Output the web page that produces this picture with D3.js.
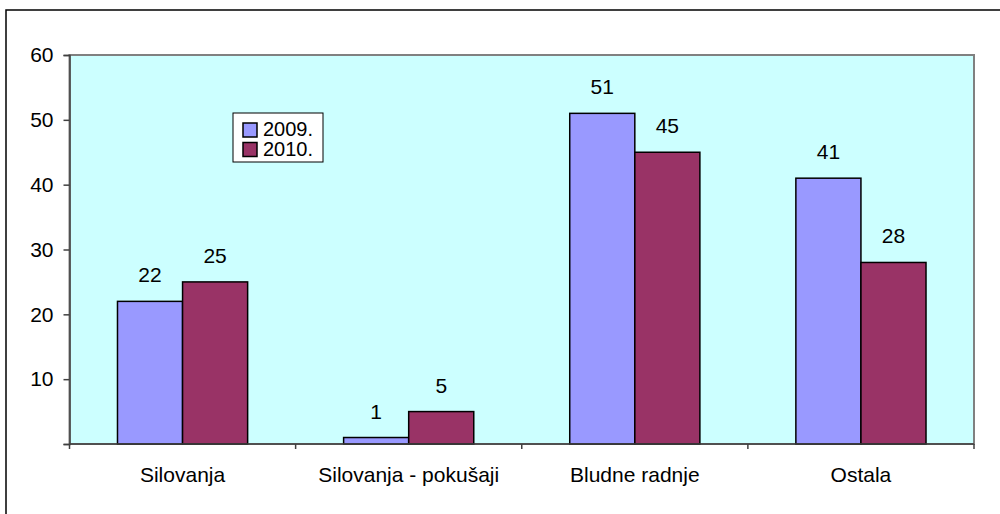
<!DOCTYPE html>
<html>
<head>
<meta charset="utf-8">
<script src="https://cdn.jsdelivr.net/npm/d3@7"></script>
<style>
body { margin: 0; background: #ffffff; }
text { font-family: "Liberation Sans", Arial, sans-serif; fill: #000000; }
</style>
</head>
<body>
<div id="chart"></div>
<script>
let categories = ["Silovanja", "Silovanja - pokušaji", "Bludne radnje", "Ostala"];
let seriesNames = ["2009.", "2010."];
let values2009 = [22, 1, 51, 41];
let values2010 = [25, 5, 45, 28];
let yTicks = [10, 20, 30, 40, 50, 60];
let colors = ["#9999FF", "#993366"];

let width = 1000;
let height = 514;
let plot = { left: 69.5, top: 55, right: 974, bottom: 444 };
let fontSize = "21px";

let svg = d3.select("#chart")
    .append("svg")
    .attr("width", width)
    .attr("height", height);

// outer frame
svg.append("rect")
    .attr("x", 6).attr("y", 10)
    .attr("width", 1000).attr("height", 520)
    .attr("fill", "#ffffff")
    .attr("stroke", "#000000")
    .attr("stroke-width", 1.5);

let x = d3.scaleBand()
    .domain(categories)
    .range([plot.left, plot.right]);

let xInner = d3.scaleBand()
    .domain(seriesNames)
    .range([0, x.bandwidth()])
    .paddingOuter(0.7375);

let y = d3.scaleLinear()
    .domain([0, 60])
    .range([plot.bottom, plot.top]);

// plot background
svg.append("rect")
    .attr("x", plot.left).attr("y", plot.top)
    .attr("width", plot.right - plot.left)
    .attr("height", plot.bottom - plot.top)
    .attr("fill", "#CCFFFF")
    .attr("stroke", "#808080")
    .attr("stroke-width", 2);

// bars
let data = [];
categories.forEach(function(c, i) {
    data.push({ cat: c, series: seriesNames[0], value: values2009[i], color: colors[0] });
    data.push({ cat: c, series: seriesNames[1], value: values2010[i], color: colors[1] });
});

svg.selectAll(".bar")
    .data(data)
    .enter()
    .append("rect")
    .attr("class", "bar")
    .attr("x", d => x(d.cat) + xInner(d.series))
    .attr("y", d => y(d.value))
    .attr("width", xInner.bandwidth())
    .attr("height", d => y(0) - y(d.value))
    .attr("fill", d => d.color)
    .attr("stroke", "#000000")
    .attr("stroke-width", 1.5);

svg.selectAll(".val")
    .data(data)
    .enter()
    .append("text")
    .attr("class", "val")
    .attr("x", d => x(d.cat) + xInner(d.series) + xInner.bandwidth() / 2)
    .attr("y", d => y(d.value) - 19)
    .attr("text-anchor", "middle")
    .attr("font-size", fontSize)
    .text(d => d.value);

// y axis
let yAxis = d3.axisLeft(y)
    .tickValues([0].concat(yTicks))
    .tickSize(6)
    .tickPadding(10)
    .tickFormat(d => d === 0 ? "" : d);

let yg = svg.append("g")
    .attr("transform", "translate(" + plot.left + ",0)")
    .call(yAxis);
yg.selectAll("path, line").attr("stroke", "#404040").attr("stroke-width", 1.5);
yg.selectAll("text")
    .attr("font-size", fontSize)
    .attr("font-family", "Liberation Sans, Arial, sans-serif")
    .attr("fill", "#000000");

// x axis
let xg = svg.append("g")
    .attr("transform", "translate(0," + plot.bottom + ")");
xg.append("line")
    .attr("x1", plot.left).attr("x2", plot.right)
    .attr("stroke", "#404040").attr("stroke-width", 1.5);
let xTickPos = categories.map(c => x(c)).concat([plot.right]);
xg.selectAll(".xtick")
    .data(xTickPos)
    .enter()
    .append("line")
    .attr("x1", d => d).attr("x2", d => d)
    .attr("y1", 0).attr("y2", 5)
    .attr("stroke", "#404040").attr("stroke-width", 1.5);
xg.selectAll(".xlabel")
    .data(categories)
    .enter()
    .append("text")
    .attr("x", d => x(d) + x.bandwidth() / 2)
    .attr("y", 38)
    .attr("text-anchor", "middle")
    .attr("font-size", fontSize)
    .text(d => d);

// legend
let legend = svg.append("g").attr("transform", "translate(233,113)");
legend.append("rect")
    .attr("width", 90).attr("height", 49)
    .attr("fill", "#ffffff")
    .attr("stroke", "#000000")
    .attr("stroke-width", 1);
seriesNames.forEach(function(s, i) {
    legend.append("rect")
        .attr("x", 10).attr("y", 10 + i * 19.5)
        .attr("width", 14).attr("height", 14)
        .attr("fill", colors[i])
        .attr("stroke", "#000000")
        .attr("stroke-width", 1.5);
    legend.append("text")
        .attr("x", 30).attr("y", 23 + i * 19.5)
        .attr("font-size", "20px")
        .text(s);
});
</script>
</body>
</html>
